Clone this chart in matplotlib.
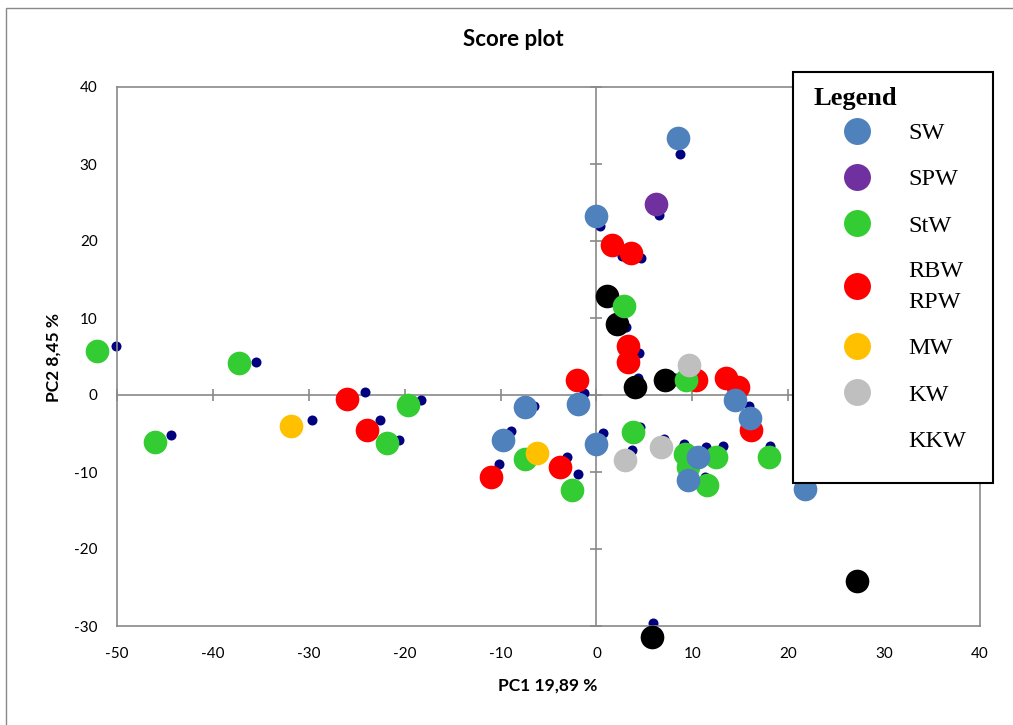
import matplotlib
matplotlib.use("Agg")
import matplotlib.pyplot as plt
from matplotlib.lines import Line2D
from matplotlib.patches import Rectangle

plt.rcParams["axes.unicode_minus"] = False

# score values, one pair of lists per group
sw_x = [8.5, 0.0, -7.5, -1.9, -9.7, 0.0, 14.5, 16.0, 10.6, 9.6, 21.8]
sw_y = [33.4, 23.2, -1.6, -1.2, -5.9, -6.3, -0.7, -3.0, -8.1, -11.0, -12.2]
spw_x = [6.2]
spw_y = [24.8]
stw_x = [-52.1, -37.3, -46.0, -19.7, -21.8, -7.4, -2.5, 3.8, 2.9, 9.3, 9.2, 9.5, 12.5, 11.5, 18.0]
stw_y = [5.7, 4.1, -6.1, -1.3, -6.2, -8.3, -12.3, -4.8, 11.5, 1.9, -7.6, -9.3, -8.0, -11.7, -8.0]
rbw_x = [-26.0, -23.9, -11.0, -3.8, -2.0, 1.6, 3.6, 3.3, 3.3, 10.4, 13.5, 14.8, 16.1]
rbw_y = [-0.5, -4.5, -10.6, -9.4, 1.9, 19.5, 18.5, 6.3, 4.3, 1.9, 2.2, 1.0, -4.6]
mw_x = [-31.9, -6.2]
mw_y = [-4.0, -7.5]
kw_x = [3.0, 6.7, 9.7]
kw_y = [-8.4, -6.8, 3.9]
kkw_x = [1.1, 2.1, 4.0, 7.2, 27.2, 5.8]
kkw_y = [12.9, 9.2, 1.1, 1.9, -24.2, -31.4]

# small navy dots
pred_x = [-50.1, -35.5, -44.4, -29.7, -24.1, -18.3, -22.6, -20.6, -6.5, -1.3, -8.9, -10.2,
          -3.1, -1.9, 0.7, 4.5, 3.7, 7.0, 9.1, 11.4, 13.2, 11.3, 18.1, 15.9, 15.3, 5.9,
          8.7, 6.5, 0.4, 2.7, 4.6, 4.4, 3.1, 4.3, 8.2]
pred_y = [6.3, 4.3, -5.2, -3.2, 0.4, -0.6, -3.3, -5.8, -1.4, 0.2, -4.7, -9.0,
          -8.1, -10.3, -4.9, -4.1, -7.2, -5.7, -6.3, -6.7, -6.6, -10.6, -6.6, -1.4, 1.6, -29.6,
          31.3, 23.4, 21.9, 18.1, 17.8, 5.4, 8.8, 2.2, 2.2]

legend_labels = ["SW", "SPW", "StW", "RBW\nRPW", "MW", "KW", "KKW"]
legend_colors = ["#4F81BD", "#7030A0", "#33CC33", "#FF0000", "#FFC000", "#BFBFBF", "none"]

x_ticks = list(range(-50, 41, 10))
y_ticks = list(range(-30, 41, 10))

gray = "#898989"
sans = "Lato"
serif = "Liberation Serif"

W, H = 1013, 725
fig = plt.figure(figsize=(W / 100, H / 100), dpi=100)
pos = [117 / W, 1 - 626 / H, (980 - 117) / W, (626 - 87) / H]

# axes crossing at zero, drawn underneath
ax0 = fig.add_axes(pos)
ax0.set_xlim(-50, 40)
ax0.set_ylim(-30, 40)
ax0.spines["left"].set_position(("data", 0))
ax0.spines["bottom"].set_position(("data", 0))
ax0.spines["right"].set_visible(False)
ax0.spines["top"].set_visible(False)
for s in ["left", "bottom"]:
    ax0.spines[s].set_color(gray)
    ax0.spines[s].set_linewidth(1.2)
ax0.set_xticks(x_ticks)
ax0.set_yticks(y_ticks)
ax0.tick_params(direction="inout", length=8.5, width=1.2, color=gray,
                labelbottom=False, labelleft=False)

# frame, tick labels and the points
ax = fig.add_axes(pos, zorder=1)
ax.patch.set_alpha(0)
ax.set_xlim(-50, 40)
ax.set_ylim(-30, 40)
for s in ax.spines.values():
    s.set_color(gray)
    s.set_linewidth(1.2)
ax.set_xticks(x_ticks)
ax.set_yticks(y_ticks)
ax.tick_params(length=0, labelsize=11, labelcolor="black")
ax.tick_params(axis="x", pad=15)
ax.tick_params(axis="y", pad=14)
for lab in ax.get_xticklabels() + ax.get_yticklabels():
    lab.set_fontfamily(sans)

big = 290
ax.scatter(pred_x, pred_y, s=52, color="#000080", linewidths=0, clip_on=False, zorder=2)
ax.scatter(kkw_x, kkw_y, s=big, color="black", linewidths=0, clip_on=False, zorder=3)
ax.scatter(rbw_x, rbw_y, s=big, color=legend_colors[3], linewidths=0, clip_on=False, zorder=3)
ax.scatter(stw_x, stw_y, s=big, color=legend_colors[2], linewidths=0, clip_on=False, zorder=3)
ax.scatter(sw_x, sw_y, s=big, color=legend_colors[0], linewidths=0, clip_on=False, zorder=3)
ax.scatter(spw_x, spw_y, s=big, color=legend_colors[1], linewidths=0, clip_on=False, zorder=3)
ax.scatter(mw_x, mw_y, s=big, color=legend_colors[4], linewidths=0, clip_on=False, zorder=3)
ax.scatter(kw_x, kw_y, s=big, color=legend_colors[5], linewidths=0, clip_on=False, zorder=3)

ax.set_xlabel("PC1 19,89 %", fontsize=12.5, fontweight="bold", fontfamily=sans)
ax.set_ylabel("PC2 8,45 %", fontsize=12.5, fontweight="bold", fontfamily=sans)
ax.xaxis.set_label_coords(0.4994, -0.0965)
ax.yaxis.set_label_coords(-0.064, 0.499)

fig.text(513 / W, 1 - 40 / H, "Score plot", ha="center", va="center",
         fontsize=16, fontweight="bold", fontfamily=sans)

# outer chart border
fig.add_artist(Rectangle((6 / W, -0.1), 1.2, 1 - 8 / H + 0.1, transform=fig.transFigure,
                         fill=False, edgecolor=gray, linewidth=1.0, zorder=0))

# legend box
fig.add_artist(Rectangle((793 / W, 1 - 483 / H), 200 / W, (483 - 72) / H,
                         transform=fig.transFigure, facecolor="white",
                         edgecolor="black", linewidth=1.5, zorder=4))
fig.text(813 / W, 1 - 99 / H, "Legend", ha="left", va="center", fontsize=19,
         fontweight="bold", fontfamily=serif, zorder=6)

handles = [Line2D([], [], linestyle="none", marker="o", markersize=19.4,
                  markerfacecolor=c, markeredgewidth=0) for c in legend_colors]
leg = fig.legend(handles, legend_labels, loc="upper left",
                 bbox_to_anchor=(813 / W, 1 - 122 / H), frameon=False,
                 borderpad=0, borderaxespad=0, handlelength=3.62, handletextpad=0.29,
                 labelspacing=1.0, prop={"family": serif, "size": 17.5})
leg.set_zorder(6)
for t in leg.get_texts():
    t.set_linespacing(1.62)

fig.savefig("out.png", dpi=100)
